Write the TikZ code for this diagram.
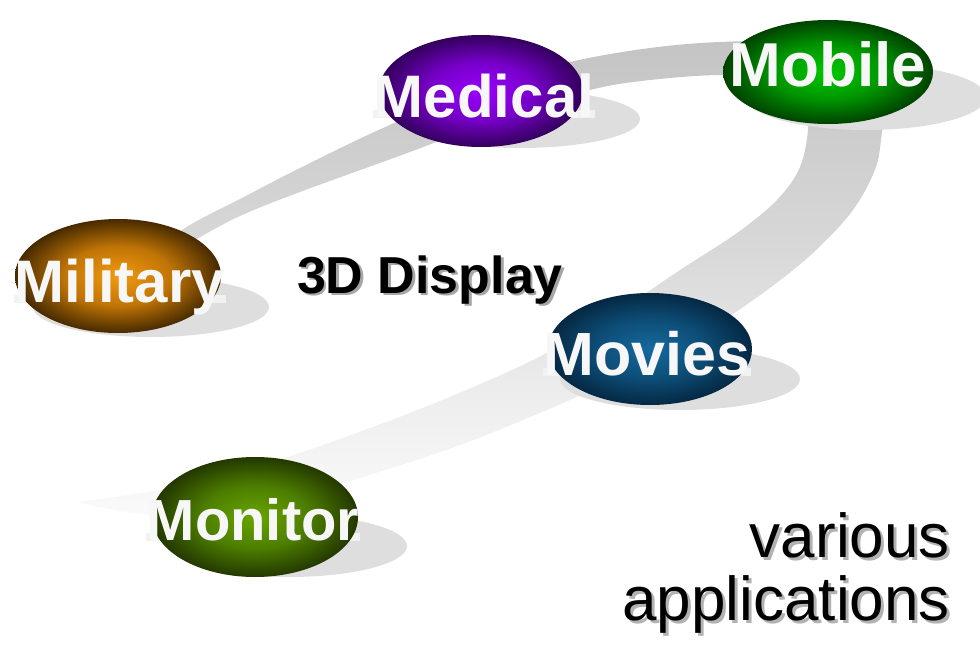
\documentclass[tikz,border=0pt]{standalone}
\usepackage{fontspec}
\setmainfont{Liberation Sans}
\usetikzlibrary{shapes.geometric}

% ribbon greys, light at the bottom, darker at the top
\definecolor{rbA}{HTML}{FAFAFA}
\definecolor{rbB}{HTML}{EEEEEE}
\definecolor{rbC}{HTML}{D8D8D8}
\definecolor{rbD}{HTML}{CCCCCC}
\definecolor{rbE}{HTML}{C4C4C4}
\pgfdeclareverticalshading{ribbonshade}{100bp}{color(0bp)=(rbA); color(25bp)=(rbA); color(37bp)=(rbB); color(53bp)=(rbC); color(66bp)=(rbD); color(75bp)=(rbE); color(100bp)=(rbE)}

% bubble colours: centre, middle ring, rim
\definecolor{medIn}{HTML}{9A00FF}\definecolor{medMid}{HTML}{7600C8}\definecolor{medOut}{HTML}{33005C}
\definecolor{mobIn}{HTML}{00C800}\definecolor{mobMid}{HTML}{009600}\definecolor{mobOut}{HTML}{004200}
\definecolor{milIn}{HTML}{F29A10}\definecolor{milMid}{HTML}{BF7406}\definecolor{milOut}{HTML}{472A00}
\definecolor{movIn}{HTML}{16699F}\definecolor{movMid}{HTML}{0D4E78}\definecolor{movOut}{HTML}{052843}
\definecolor{monIn}{HTML}{68A500}\definecolor{monMid}{HTML}{4D7E00}\definecolor{monOut}{HTML}{233800}

\newcommand\bubbleshade[4]{\pgfdeclareradialshading{#1}{\pgfpoint{0bp}{0bp}}{color(0bp)=(#2); color(13bp)=(#3); color(25bp)=(#4); color(50bp)=(#4)}}
\bubbleshade{medicalshade}{medIn}{medMid}{medOut}
\bubbleshade{mobileshade}{mobIn}{mobMid}{mobOut}
\bubbleshade{militaryshade}{milIn}{milMid}{milOut}
\bubbleshade{moviesshade}{movIn}{movMid}{movOut}
\bubbleshade{monitorshade}{monIn}{monMid}{monOut}

\newcommand\appfont[1]{\bfseries\fontsize{#1}{#1}\selectfont}

\begin{document}
\begin{tikzpicture}[x=1pt,y=-1pt,
  bubble/.style={ellipse, inner sep=0pt, shade, shading=#1},
  floorshadow/.style={ellipse, inner sep=0pt, fill=black!13},
  labelbox/.style={anchor=base, fill=black!5, text=black!5, inner xsep=1pt, inner ysep=0pt,
                   text height=0.73em, text depth=0.05em},
  applabel/.style={anchor=base, text=white!97!black, inner sep=0pt},
  headline/.style={anchor=base, font=\appfont{52}},
  caption/.style={anchor=base east, inner sep=0pt, font=\fontsize{62}{62}\selectfont}]
\useasboundingbox (0,0) rectangle (980,645);

% the grey swoosh that links the bubbles
\shade[shading=ribbonshade]
  plot[smooth, tension=0.55] coordinates {(150,258) (185,228) (240,199) (300,168) (383,128) (480,88)
      (570,62) (650,48) (720,42) (800,42) (868,56) (893,92) (883,127) (876,167) (853,210)
      (813,253) (763,293) (700,335) (630,370) (570,400) (460,445) (343,483) (250,506) (153,515) (77,502)}
  -- plot[smooth, tension=0.55] coordinates {(77,502) (153,491) (230,474) (300,453) (420,409)
      (533,360) (620,310) (680,270) (737,233) (777,200) (800,167) (808,125) (798,98) (760,80)
      (720,75) (650,80) (590,90) (500,118) (410,152) (300,192) (240,216) (195,240) (160,262)}
  -- cycle;

% Medical
\node[floorshadow, minimum width=240pt, minimum height=58pt] (medical-shadow) at (520,119) {};
\node[labelbox, font=\appfont{60}] (medical-box) at (484,117) {Medical};
\node[bubble=medicalshade, minimum width=204pt, minimum height=112pt] (medical) at (481,91) {};
\node[applabel, font=\appfont{60}] (medical-text) at (484,117) {Medical};

% Mobile
\node[floorshadow, minimum width=240pt, minimum height=66pt] (mobile-shadow) at (866,97) {};
\node[labelbox, font=\appfont{62}] (mobile-box) at (828,86) {Mobile};
\node[bubble=mobileshade, minimum width=210pt, minimum height=104pt] (mobile) at (828,72) {};
\node[applabel, font=\appfont{62}] (mobile-text) at (828,86) {Mobile};

% Military
\node[floorshadow, minimum width=236pt, minimum height=60pt] (military-shadow) at (151,307) {};
\node[labelbox, font=\appfont{60}] (military-box) at (120,302) {Military};
\node[bubble=militaryshade, minimum width=206pt, minimum height=114pt] (military) at (118,276) {};
\node[applabel, font=\appfont{60}] (military-text) at (120,302) {Military};

% Movies
\node[floorshadow, minimum width=240pt, minimum height=62pt] (movies-shadow) at (680,379) {};
\node[labelbox, font=\appfont{61}] (movies-box) at (647,375) {Movies};
\node[bubble=moviesshade, minimum width=204pt, minimum height=112pt] (movies) at (650,349) {};
\node[applabel, font=\appfont{61}] (movies-text) at (647,375) {Movies};

% Monitor
\node[floorshadow, minimum width=236pt, minimum height=62pt] (monitor-shadow) at (289,546) {};
\node[labelbox, font=\appfont{58}] (monitor-box) at (253,540) {Monitor};
\node[bubble=monitorshade, minimum width=206pt, minimum height=120pt] (monitor) at (255,517) {};
\node[applabel, font=\appfont{58}] (monitor-text) at (253,540) {Monitor};

% centre title
\node[headline, text=black!35] (title-shadow) at (432.5,295.5) {3D Display};
\node[headline, text=black] (title) at (430,293) {3D Display};

% caption, right aligned
\node[caption, text=black!30] (caption1-shadow) at (953,560) {various};
\node[caption, text=black!30] (caption2-shadow) at (953,623) {applications};
\node[caption] (caption1) at (950,557) {various};
\node[caption] (caption2) at (950,620) {applications};
\end{tikzpicture}
\end{document}
